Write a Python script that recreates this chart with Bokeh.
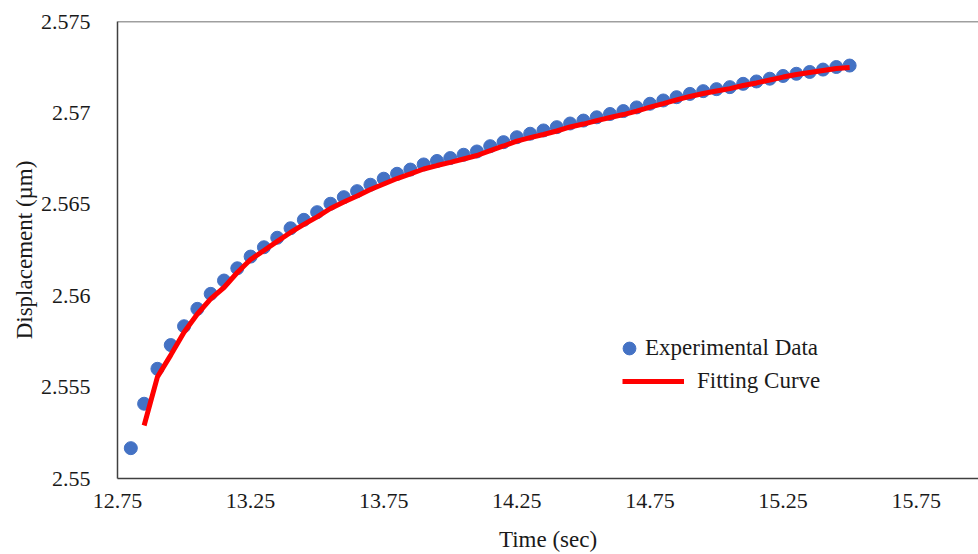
from bokeh.plotting import figure
from bokeh.models import Range1d, FixedTicker, Legend, LegendItem, Span
from bokeh.embed import file_html
from bokeh.resources import INLINE

# ---- data ----
time_exp = [12.80, 12.85, 12.90, 12.95, 13.00, 13.05, 13.10, 13.15, 13.20, 13.25,
            13.30, 13.35, 13.40, 13.45, 13.50, 13.55, 13.60, 13.65, 13.70, 13.75,
            13.80, 13.85, 13.90, 13.95, 14.00, 14.05, 14.10, 14.15, 14.20, 14.25,
            14.30, 14.35, 14.40, 14.45, 14.50, 14.55, 14.60, 14.65, 14.70, 14.75,
            14.80, 14.85, 14.90, 14.95, 15.00, 15.05, 15.10, 15.15, 15.20, 15.25,
            15.30, 15.35, 15.40, 15.45, 15.50]
disp_exp = [2.55166, 2.55409, 2.55600, 2.55730, 2.55833, 2.55928, 2.56010, 2.56083, 2.56150, 2.56214,
            2.56265, 2.56317, 2.56369, 2.56415, 2.56457, 2.56503, 2.56539, 2.56572, 2.56607, 2.56640,
            2.56667, 2.56690, 2.56718, 2.56737, 2.56753, 2.56771, 2.56789, 2.56818, 2.56840, 2.56867,
            2.56886, 2.56904, 2.56922, 2.56942, 2.56958, 2.56976, 2.56994, 2.57010, 2.57030, 2.57050,
            2.57068, 2.57086, 2.57104, 2.57119, 2.57130, 2.57141, 2.57159, 2.57172, 2.57187, 2.57202,
            2.57214, 2.57224, 2.57237, 2.57251, 2.57259]

time_fit = [12.85, 12.90, 12.95, 13.00, 13.05, 13.10, 13.15, 13.20, 13.25,
            13.30, 13.35, 13.40, 13.45, 13.50, 13.55, 13.60, 13.65, 13.70, 13.75,
            13.80, 13.85, 13.90, 13.95, 14.00, 14.05, 14.10, 14.15, 14.20, 14.25,
            14.30, 14.35, 14.40, 14.45, 14.50, 14.55, 14.60, 14.65, 14.70, 14.75,
            14.80, 14.85, 14.90, 14.95, 15.00, 15.05, 15.10, 15.15, 15.20, 15.25,
            15.30, 15.35, 15.40, 15.45, 15.50]
disp_fit = [2.55290, 2.55556, 2.55675, 2.55800, 2.55900, 2.55983, 2.56045, 2.56127, 2.56198, 2.56247,
            2.56297, 2.56346, 2.56390, 2.56431, 2.56477, 2.56513, 2.56545, 2.56581, 2.56611, 2.56641,
            2.56666, 2.56693, 2.56712, 2.56729, 2.56748, 2.56767, 2.56794, 2.56819, 2.56846, 2.56865,
            2.56882, 2.56901, 2.56923, 2.56939, 2.56958, 2.56975, 2.56991, 2.57010, 2.57032, 2.57051,
            2.57071, 2.57090, 2.57106, 2.57120, 2.57133, 2.57150, 2.57164, 2.57180, 2.57196, 2.57210,
            2.57221, 2.57232, 2.57243, 2.57248]

x_ticks = [12.75, 13.25, 13.75, 14.25, 14.75, 15.25, 15.75]
x_tick_labels = ["12.75", "13.25", "13.75", "14.25", "14.75", "15.25", "15.75"]
y_ticks = [2.55, 2.555, 2.56, 2.565, 2.57, 2.575]
y_tick_labels = ["2.55", "2.555", "2.56", "2.565", "2.57", "2.575"]

x_label = "Time (sec)"
y_label = "Displacement (\u00b5m)"
series_names = ["Experimental Data", "Fitting Curve"]

# ---- styling ----
FONT = "Liberation Serif"
TXT = "#1a1a1a"
FRAME = "#404040"

p = figure(width=978, height=554, output_backend="svg", toolbar_location=None,
           x_range=Range1d(12.75, 15.984), y_range=Range1d(2.55, 2.575),
           min_border_left=117, min_border_right=0, min_border_top=21,
           min_border_bottom=76)
p.background_fill_color = "white"
p.border_fill_color = "white"
p.outline_line_color = None
p.xgrid.visible = False
p.ygrid.visible = False

for ax in (p.xaxis[0], p.yaxis[0]):
    ax.major_tick_out = 0
    ax.major_tick_in = 0
    ax.minor_tick_out = 0
    ax.minor_tick_in = 0
    ax.axis_line_color = FRAME
    ax.axis_line_width = 1.5
    ax.major_label_text_font = FONT
    ax.major_label_text_font_size = "22px"
    ax.major_label_text_color = TXT
    ax.axis_label_text_font = FONT
    ax.axis_label_text_font_size = "23px"
    ax.axis_label_text_font_style = "normal"
    ax.axis_label_text_color = TXT

p.xaxis.ticker = FixedTicker(ticks=x_ticks, minor_ticks=[])
p.xaxis.major_label_overrides = dict(zip(x_ticks, x_tick_labels))
p.xaxis.axis_label = x_label
p.xaxis.major_label_standoff = 15
p.xaxis.axis_label_standoff = 16

p.yaxis.ticker = FixedTicker(ticks=y_ticks, minor_ticks=[])
p.yaxis.major_label_overrides = dict(zip(y_ticks, y_tick_labels))
p.yaxis.axis_label = y_label
p.yaxis.major_label_standoff = 27
p.yaxis.axis_label_standoff = 1
p.yaxis.major_label_orientation = "horizontal"

# top border of the plot box (box is open on the right, as in the reference)
p.add_layout(Span(location=y_ticks[-1], dimension="width",
                  line_color=FRAME, line_width=1.5))

r_exp = p.scatter(time_exp, disp_exp, size=13, fill_color="#4472C4",
                  line_color="#4472C4")
r_fit = p.line(time_fit, disp_fit, line_width=5, line_color="#FF0000")

common = dict(padding=0, margin=0, spacing=0, border_line_alpha=0,
              background_fill_alpha=0, label_text_font=FONT,
              label_text_font_size="23px", label_text_color=TXT)
leg1 = Legend(items=[LegendItem(label=series_names[0], renderers=[r_exp])],
              location=(496, 114), glyph_width=32, glyph_height=32,
              label_standoff=0, **common)
leg2 = Legend(items=[LegendItem(label=series_names[1], renderers=[r_fit])],
              location=(505, 84), glyph_width=62, glyph_height=26,
              label_standoff=13, **common)
p.add_layout(leg1, "center")
p.add_layout(leg2, "center")

open("out.html", "w").write(file_html(p, INLINE))
